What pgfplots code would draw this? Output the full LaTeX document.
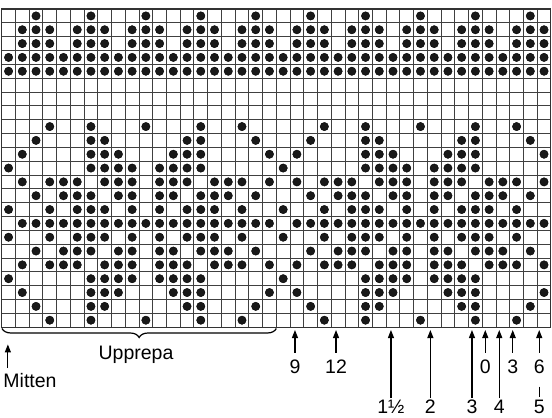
\documentclass[border=0pt]{standalone}
\usepackage{fontspec}
\setmainfont{Liberation Sans}
\usepackage{pgfplots}
\pgfplotsset{compat=1.18}
\usetikzlibrary{decorations.pathreplacing,arrows.meta}
\tikzset{
    lbl/.style={font=\fontsize{19.5}{22}\selectfont, anchor=base, inner sep=0pt},
    arr/.style={line width=1.1pt, -{Triangle[length=8pt,width=6pt]}},
    dot/.style={only marks, mark=*, mark size=4.2pt, black, mark options={fill=black!90}},
}

\begin{document}
\begin{tikzpicture}
\begin{axis}[
    scale only axis,
    width=549.2pt, height=318.1pt,
    xmin=0, xmax=40, ymin=0, ymax=23,
    y dir=reverse,
    xtick={0,...,40}, ytick={0,...,23},
    xticklabels={}, yticklabels={},
    major tick length=0pt,
    grid=major,
    grid style={black!75, line width=0.9pt},
    axis line style={black!80, line width=1.1pt},
    clip=false,
]
% top border pattern (rows 1-5)
\addplot[dot] coordinates {(2.5,0.5)(6.5,0.5)(10.5,0.5)(14.5,0.5)(18.5,0.5)(22.5,0.5)(26.5,0.5)(30.5,0.5)(34.5,0.5)(38.5,0.5)};
\addplot[dot] coordinates {(1.5,1.5)(2.5,1.5)(3.5,1.5)(5.5,1.5)(6.5,1.5)(7.5,1.5)(9.5,1.5)(10.5,1.5)(11.5,1.5)(13.5,1.5)(14.5,1.5)(15.5,1.5)(17.5,1.5)(18.5,1.5)(19.5,1.5)
  (21.5,1.5)(22.5,1.5)(23.5,1.5)(25.5,1.5)(26.5,1.5)(27.5,1.5)(29.5,1.5)(30.5,1.5)(31.5,1.5)(33.5,1.5)(34.5,1.5)(35.5,1.5)(37.5,1.5)(38.5,1.5)(39.5,1.5)};
\addplot[dot] coordinates {(1.5,2.5)(2.5,2.5)(3.5,2.5)(5.5,2.5)(6.5,2.5)(7.5,2.5)(9.5,2.5)(10.5,2.5)(11.5,2.5)(13.5,2.5)(14.5,2.5)(15.5,2.5)(17.5,2.5)(18.5,2.5)(19.5,2.5)
  (21.5,2.5)(22.5,2.5)(23.5,2.5)(25.5,2.5)(26.5,2.5)(27.5,2.5)(29.5,2.5)(30.5,2.5)(31.5,2.5)(33.5,2.5)(34.5,2.5)(35.5,2.5)(37.5,2.5)(38.5,2.5)(39.5,2.5)};
\addplot[dot] coordinates {(0.5,3.5)(1.5,3.5)(2.5,3.5)(3.5,3.5)(4.5,3.5)(5.5,3.5)(6.5,3.5)(7.5,3.5)(8.5,3.5)(9.5,3.5)(10.5,3.5)(11.5,3.5)(12.5,3.5)(13.5,3.5)(14.5,3.5)(15.5,3.5)(16.5,3.5)(17.5,3.5)(18.5,3.5)(19.5,3.5)
  (20.5,3.5)(21.5,3.5)(22.5,3.5)(23.5,3.5)(24.5,3.5)(25.5,3.5)(26.5,3.5)(27.5,3.5)(28.5,3.5)(29.5,3.5)(30.5,3.5)(31.5,3.5)(32.5,3.5)(33.5,3.5)(34.5,3.5)(35.5,3.5)(36.5,3.5)(37.5,3.5)(38.5,3.5)(39.5,3.5)};
\addplot[dot] coordinates {(0.5,4.5)(1.5,4.5)(2.5,4.5)(3.5,4.5)(4.5,4.5)(5.5,4.5)(6.5,4.5)(7.5,4.5)(8.5,4.5)(9.5,4.5)(10.5,4.5)(11.5,4.5)(12.5,4.5)(13.5,4.5)(14.5,4.5)(15.5,4.5)(16.5,4.5)(17.5,4.5)(18.5,4.5)(19.5,4.5)
  (20.5,4.5)(21.5,4.5)(22.5,4.5)(23.5,4.5)(24.5,4.5)(25.5,4.5)(26.5,4.5)(27.5,4.5)(28.5,4.5)(29.5,4.5)(30.5,4.5)(31.5,4.5)(32.5,4.5)(33.5,4.5)(34.5,4.5)(35.5,4.5)(36.5,4.5)(37.5,4.5)(38.5,4.5)(39.5,4.5)};
% main pattern (rows 9-23)
\addplot[dot] coordinates {(3.5,8.5)(6.5,8.5)(10.5,8.5)(14.5,8.5)(17.5,8.5)(23.5,8.5)(26.5,8.5)(30.5,8.5)(34.5,8.5)(37.5,8.5)};
\addplot[dot] coordinates {(2.5,9.5)(6.5,9.5)(7.5,9.5)(13.5,9.5)(14.5,9.5)(18.5,9.5)(22.5,9.5)(26.5,9.5)(27.5,9.5)(33.5,9.5)(34.5,9.5)(38.5,9.5)};
\addplot[dot] coordinates {(1.5,10.5)(6.5,10.5)(7.5,10.5)(8.5,10.5)(12.5,10.5)(13.5,10.5)(14.5,10.5)(19.5,10.5)
  (21.5,10.5)(26.5,10.5)(27.5,10.5)(28.5,10.5)(32.5,10.5)(33.5,10.5)(34.5,10.5)(39.5,10.5)};
\addplot[dot] coordinates {(0.5,11.5)(6.5,11.5)(7.5,11.5)(8.5,11.5)(9.5,11.5)(11.5,11.5)(12.5,11.5)(13.5,11.5)(14.5,11.5)
  (20.5,11.5)(26.5,11.5)(27.5,11.5)(28.5,11.5)(29.5,11.5)(31.5,11.5)(32.5,11.5)(33.5,11.5)(34.5,11.5)};
\addplot[dot] coordinates {(1.5,12.5)(3.5,12.5)(4.5,12.5)(5.5,12.5)(7.5,12.5)(8.5,12.5)(9.5,12.5)(11.5,12.5)(12.5,12.5)(13.5,12.5)(15.5,12.5)(16.5,12.5)(17.5,12.5)(19.5,12.5)
  (21.5,12.5)(23.5,12.5)(24.5,12.5)(25.5,12.5)(27.5,12.5)(28.5,12.5)(29.5,12.5)(31.5,12.5)(32.5,12.5)(33.5,12.5)(35.5,12.5)(36.5,12.5)(37.5,12.5)(39.5,12.5)};
\addplot[dot] coordinates {(2.5,13.5)(4.5,13.5)(5.5,13.5)(6.5,13.5)(8.5,13.5)(9.5,13.5)(11.5,13.5)(12.5,13.5)(14.5,13.5)(15.5,13.5)(16.5,13.5)(18.5,13.5)
  (22.5,13.5)(24.5,13.5)(25.5,13.5)(26.5,13.5)(28.5,13.5)(29.5,13.5)(31.5,13.5)(32.5,13.5)(34.5,13.5)(35.5,13.5)(36.5,13.5)(38.5,13.5)};
\addplot[dot] coordinates {(0.5,14.5)(3.5,14.5)(5.5,14.5)(6.5,14.5)(7.5,14.5)(9.5,14.5)(11.5,14.5)(13.5,14.5)(14.5,14.5)(15.5,14.5)(17.5,14.5)
  (20.5,14.5)(23.5,14.5)(25.5,14.5)(26.5,14.5)(27.5,14.5)(29.5,14.5)(31.5,14.5)(33.5,14.5)(34.5,14.5)(35.5,14.5)(37.5,14.5)};
\addplot[dot] coordinates {(1.5,15.5)(2.5,15.5)(3.5,15.5)(4.5,15.5)(5.5,15.5)(6.5,15.5)(7.5,15.5)(8.5,15.5)(9.5,15.5)(10.5,15.5)(11.5,15.5)(12.5,15.5)(13.5,15.5)(14.5,15.5)(15.5,15.5)(16.5,15.5)(17.5,15.5)(18.5,15.5)(19.5,15.5)
  (21.5,15.5)(22.5,15.5)(23.5,15.5)(24.5,15.5)(25.5,15.5)(26.5,15.5)(27.5,15.5)(28.5,15.5)(29.5,15.5)(30.5,15.5)(31.5,15.5)(32.5,15.5)(33.5,15.5)(34.5,15.5)(35.5,15.5)(36.5,15.5)(37.5,15.5)(38.5,15.5)(39.5,15.5)};
\addplot[dot] coordinates {(0.5,16.5)(3.5,16.5)(5.5,16.5)(6.5,16.5)(7.5,16.5)(9.5,16.5)(11.5,16.5)(13.5,16.5)(14.5,16.5)(15.5,16.5)(17.5,16.5)
  (20.5,16.5)(23.5,16.5)(25.5,16.5)(26.5,16.5)(27.5,16.5)(29.5,16.5)(31.5,16.5)(33.5,16.5)(34.5,16.5)(35.5,16.5)(37.5,16.5)};
\addplot[dot] coordinates {(2.5,17.5)(4.5,17.5)(5.5,17.5)(6.5,17.5)(8.5,17.5)(9.5,17.5)(11.5,17.5)(12.5,17.5)(14.5,17.5)(15.5,17.5)(16.5,17.5)(18.5,17.5)
  (22.5,17.5)(24.5,17.5)(25.5,17.5)(26.5,17.5)(28.5,17.5)(29.5,17.5)(31.5,17.5)(32.5,17.5)(34.5,17.5)(35.5,17.5)(36.5,17.5)(38.5,17.5)};
\addplot[dot] coordinates {(1.5,18.5)(3.5,18.5)(4.5,18.5)(5.5,18.5)(7.5,18.5)(8.5,18.5)(9.5,18.5)(11.5,18.5)(12.5,18.5)(13.5,18.5)(15.5,18.5)(16.5,18.5)(17.5,18.5)(19.5,18.5)
  (21.5,18.5)(23.5,18.5)(24.5,18.5)(25.5,18.5)(27.5,18.5)(28.5,18.5)(29.5,18.5)(31.5,18.5)(32.5,18.5)(33.5,18.5)(35.5,18.5)(36.5,18.5)(37.5,18.5)(39.5,18.5)};
\addplot[dot] coordinates {(0.5,19.5)(6.5,19.5)(7.5,19.5)(8.5,19.5)(9.5,19.5)(11.5,19.5)(12.5,19.5)(13.5,19.5)(14.5,19.5)
  (20.5,19.5)(26.5,19.5)(27.5,19.5)(28.5,19.5)(29.5,19.5)(31.5,19.5)(32.5,19.5)(33.5,19.5)(34.5,19.5)};
\addplot[dot] coordinates {(1.5,20.5)(6.5,20.5)(7.5,20.5)(8.5,20.5)(12.5,20.5)(13.5,20.5)(14.5,20.5)(19.5,20.5)
  (21.5,20.5)(26.5,20.5)(27.5,20.5)(28.5,20.5)(32.5,20.5)(33.5,20.5)(34.5,20.5)(39.5,20.5)};
\addplot[dot] coordinates {(2.5,21.5)(6.5,21.5)(7.5,21.5)(13.5,21.5)(14.5,21.5)(18.5,21.5)(22.5,21.5)(26.5,21.5)(27.5,21.5)(33.5,21.5)(34.5,21.5)(38.5,21.5)};
\addplot[dot] coordinates {(3.5,22.5)(6.5,22.5)(10.5,22.5)(14.5,22.5)(17.5,22.5)(23.5,22.5)(26.5,22.5)(30.5,22.5)(34.5,22.5)(37.5,22.5)};

% annotations below the chart
\draw[line width=1.2pt, decorate, decoration={brace, mirror, amplitude=9pt}]
  (axis cs:0.02,23.1) -- (axis cs:20,23.1);
\node[lbl] at (axis cs:9.78,25.33) {Upprepa};
\draw[arr] (axis cs:0.45,25.96) -- (axis cs:0.45,24.25);
\node[lbl] at (axis cs:2.06,27.40) {Mitten};

\draw[arr] (axis cs:21.36,24.87) -- (axis cs:21.36,23.21);
\node[lbl] at (axis cs:21.36,26.32) {9};
\draw[arr] (axis cs:24.35,24.87) -- (axis cs:24.35,23.21);
\node[lbl] at (axis cs:24.35,26.32) {12};
\draw[arr] (axis cs:28.35,28.13) -- (axis cs:28.35,23.21);
\node[lbl] at (axis cs:28.35,29.28) {1½};
\draw[arr] (axis cs:31.22,28.13) -- (axis cs:31.22,23.21);
\node[lbl] at (axis cs:31.22,29.28) {2};
\draw[arr] (axis cs:34.25,28.13) -- (axis cs:34.25,23.21);
\node[lbl] at (axis cs:34.25,29.28) {3};
\draw[arr] (axis cs:35.22,24.87) -- (axis cs:35.22,23.21);
\node[lbl] at (axis cs:35.22,26.32) {0};
\draw[arr] (axis cs:36.24,28.13) -- (axis cs:36.24,23.21);
\node[lbl] at (axis cs:36.24,29.28) {4};
\draw[arr] (axis cs:37.22,24.87) -- (axis cs:37.22,23.21);
\node[lbl] at (axis cs:37.22,26.32) {3};
\draw[arr] (axis cs:39.15,24.87) -- (axis cs:39.15,23.21);
\node[lbl] at (axis cs:39.15,26.32) {6};
\draw[line width=1.1pt] (axis cs:39.15,27.31) -- (axis cs:39.15,28.08);
\node[lbl] at (axis cs:39.15,29.28) {5};

\coordinate (bbA) at (axis cs:-0.124,-0.651);
\coordinate (bbB) at (axis cs:40.08,29.57);
\end{axis}
\pgfresetboundingbox
\path[use as bounding box] (bbA) rectangle (bbB);
\end{tikzpicture}
\end{document}
